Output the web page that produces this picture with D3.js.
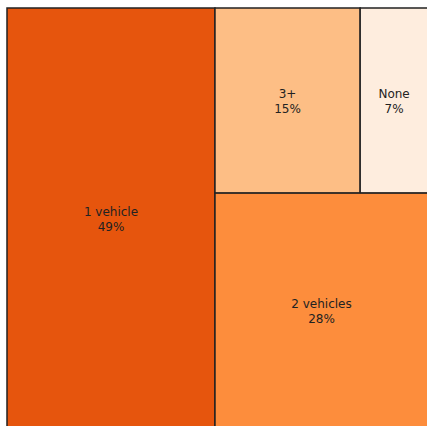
<!DOCTYPE html>
<meta charset="utf-8">
<title>Households by vehicles</title>
<style>
body {
  margin: 0;
  overflow: hidden;
}
rect {
  stroke: #222;
  stroke-width: 1.5px;
}
text {
  font-family: "DejaVu Sans", sans-serif;
  font-size: 12px;
  fill: #222;
}
</style>
<body>
<script src="https://d3js.org/d3.v7.min.js"></script>
<script>
// share of households by number of vehicles
var categories = ["1 vehicle", "2 vehicles", "3+", "None"],
    shares = [49.4, 28.3, 15.2, 7.1],
    labels = ["49%", "28%", "15%", "7%"],
    colors = ["#e6550d", "#fd8d3c", "#fdbe85", "#feedde"];

var w = 427,
    h = 426,
    mx = 7,
    my = 8,
    tw = 421,
    th = 420;

var svg = d3.select("body").append("svg")
    .attr("width", w)
    .attr("height", h);

function leaf(i) {
  return {name: categories[i], value: shares[i], label: labels[i], color: colors[i]};
}

// 1 vehicle | (3+ , None) over 2 vehicles
var tree = {children: [
  leaf(0),
  {children: [
    {children: [leaf(2), leaf(3)]},
    leaf(1)
  ]}
]};

var root = d3.hierarchy(tree)
    .sum(function(d) { return d.value || 0; });

function tile(node, x0, y0, x1, y1) {
  if (node.depth === 1) d3.treemapSlice(node, x0, y0, x1, y1);
  else d3.treemapDice(node, x0, y0, x1, y1);
}

d3.treemap()
    .tile(tile)
    .size([tw, th])(root);

var g = svg.append("g")
    .attr("transform", "translate(" + mx + "," + my + ")");

var cell = g.selectAll("g")
    .data(root.leaves())
  .enter().append("g")
    .attr("transform", function(d) { return "translate(" + d.x0 + "," + d.y0 + ")"; });

cell.append("rect")
    .attr("width", function(d) { return d.x1 - d.x0; })
    .attr("height", function(d) { return d.y1 - d.y0; })
    .style("fill", function(d) { return d.data.color; });

var txt = cell.append("text")
    .attr("text-anchor", "middle")
    .attr("x", function(d) { return (d.x1 - d.x0) / 2; })
    .attr("y", function(d) { return (d.y1 - d.y0) / 2; });

txt.append("tspan")
    .attr("x", function(d) { return (d.x1 - d.x0) / 2; })
    .attr("dy", "-0.2em")
    .text(function(d) { return d.data.name; });

txt.append("tspan")
    .attr("x", function(d) { return (d.x1 - d.x0) / 2; })
    .attr("dy", "1.25em")
    .text(function(d) { return d.data.label; });
</script>
